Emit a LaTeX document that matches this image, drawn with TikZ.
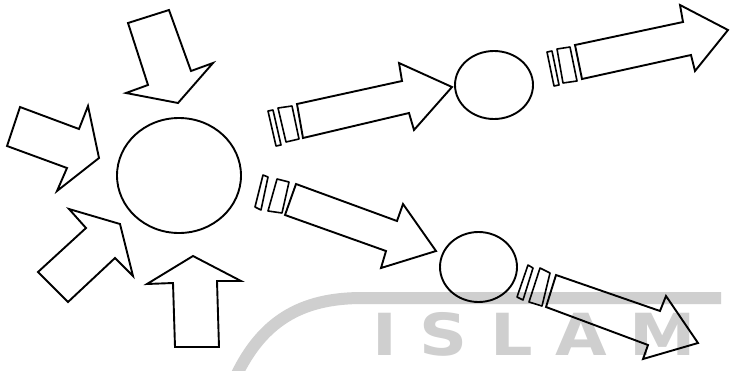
\documentclass[tikz,border=0pt]{standalone}
\usepackage{fontspec}
\usetikzlibrary{shapes.geometric}
\newfontfamily\wmfont{DejaVu Sans}
\begin{document}
\begin{tikzpicture}[x=1pt,y=-1pt,
  outl/.style={draw=black,line width=1.9pt,line join=miter},
  barl/.style={draw=black,line width=1.6pt,line join=round},
  circnode/.style={draw=black,line width=1.9pt,ellipse,inner sep=0pt,outer sep=0pt},
  wm/.style={black!19}]
\clip (0,0) rectangle (730,370);
\fill[white] (0,0) rectangle (730,370);
% watermark
\draw[wm,line width=12pt] (236,376) .. controls (262,322) and (300,298) .. (362,298) -- (721,298);
\node[wm,anchor=base west,inner sep=0pt,xscale=1.15,font=\wmfont\bfseries\fontsize{58}{58}\selectfont\addfontfeature{LetterSpace=34}] (wmtext) at (372,355) {ISLAM};
% circles
\node[circnode,minimum width=124pt,minimum height=115pt] (big) at (179,175.5) {};
\node[circnode,minimum width=78pt,minimum height=68pt] (top) at (494,85) {};
\node[circnode,minimum width=77pt,minimum height=70pt] (bot) at (478.5,267) {};
% incoming arrows
\draw[outl] (128,23) -- (169,10) -- (191,71) -- (213,63) -- (178,103) -- (126,93) -- (148,85) -- cycle;
\draw[outl] (20,107) -- (79,129) -- (88,106) -- (99,158) -- (57,191) -- (67,168) -- (7,146) -- cycle;
\draw[outl] (69,209) -- (120,224) -- (133,276) -- (115,258) -- (68,302) -- (38,272) -- (86,228) -- cycle;
\draw[outl] (193,256) -- (241,281) -- (217,281) -- (219,347) -- (175,347) -- (173,283) -- (147,284) -- cycle;
% striped arrow big -> top
\draw[outl] (297,104) -- (402,81) -- (399,63) -- (452,87) -- (414,130) -- (409,113) -- (303,138) -- cycle;
\draw[barl] (278,108) -- (292,106) -- (299,139) -- (286,142) -- cycle;
\draw[barl] (268,111) -- (273,110) -- (281,145) -- (276,146) -- cycle;
% striped arrow big -> bottom
\draw[outl] (296,184) -- (397,221) -- (403,204) -- (436,251) -- (381,268) -- (386,251) -- (285,215) -- cycle;
\draw[barl] (277,179) -- (289,182) -- (282,213) -- (268,211) -- cycle;
\draw[barl] (263,175) -- (268,177) -- (261,210) -- (255,207) -- cycle;
% striped arrow top -> out
\draw[outl] (575,45) -- (683,22) -- (680,5) -- (728,30) -- (695,71) -- (691,55) -- (582,79) -- cycle;
\draw[barl] (557,49) -- (570,47) -- (577,81) -- (563,83) -- cycle;
\draw[barl] (547,52) -- (552,51) -- (559,85) -- (554,86) -- cycle;
% striped arrow bottom -> out
\draw[outl] (556,275) -- (660,311) -- (666,296) -- (698,343) -- (643,359) -- (648,345) -- (546,307) -- cycle;
\draw[barl] (540,268) -- (550,273) -- (542,306) -- (529,302) -- cycle;
\draw[barl] (528,265) -- (533,268) -- (523,300) -- (517,297) -- cycle;
\end{tikzpicture}
\end{document}
